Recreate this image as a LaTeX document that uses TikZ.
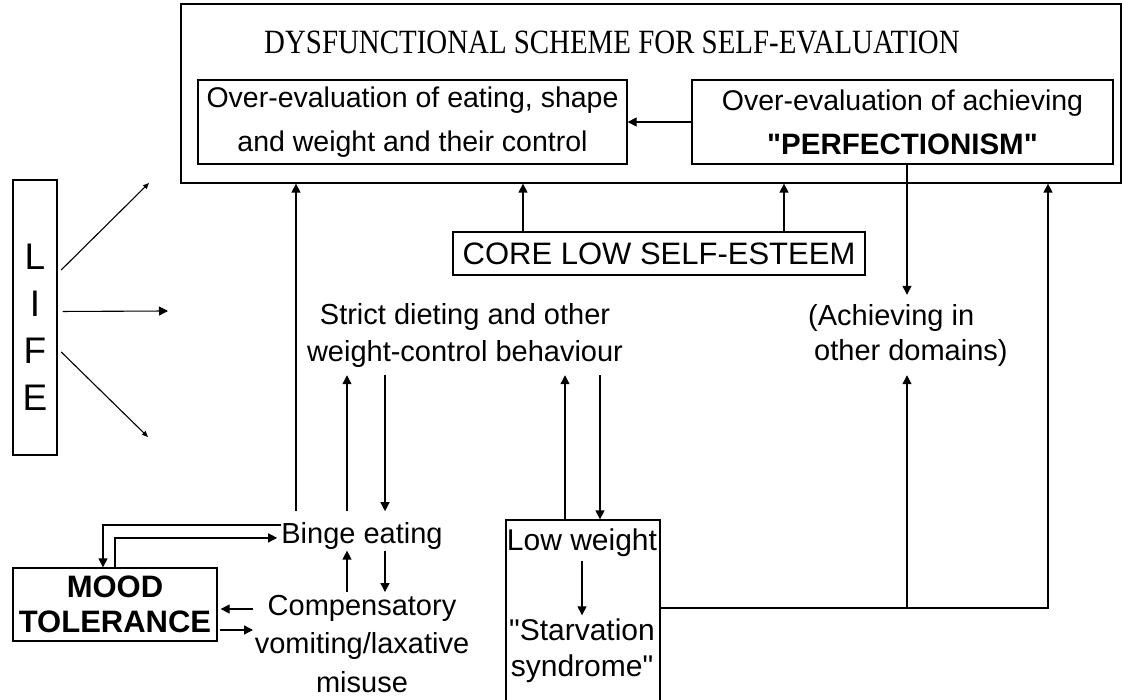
\documentclass[tikz,border=0pt]{standalone}
\usepackage{fontspec}
\setmainfont{Liberation Sans}[Ligatures=TeXOff]
\newfontfamily\titlefont{Liberation Serif}[FakeStretch=0.85,Ligatures=TeXOff]
\usetikzlibrary{arrows.meta}
\tikzset{
  box/.style={draw, line width=1.3pt, inner sep=0pt, align=center},
  txt/.style={inner sep=3pt, align=center},
  arr/.style={line width=1.3pt, -{Triangle[length=9pt,width=9pt]}},
  lifearr/.style={line width=1.1pt, -{Triangle[length=6pt,width=5pt]}}
}
\begin{document}
\begin{tikzpicture}[x=1pt,y=-1pt]
\useasboundingbox (0,0) rectangle (1122,700);
\fill[white] (0,0) rectangle (1122,700);

% top frame
\node[box, minimum width=940pt, minimum height=179pt] (outer) at (651,93.5) {};
\node[inner sep=0pt, anchor=base] (title) at (612,54) {\titlefont\fontsize{34}{40}\selectfont DYSFUNCTIONAL SCHEME FOR SELF-EVALUATION};
\node[box, minimum width=429pt, minimum height=84pt, font=\fontsize{28.5}{44}\selectfont] (eat) at (412.5,122) {Over-evaluation of eating, shape\\and weight and their control};
\node[box, minimum width=421pt, minimum height=84pt, font=\fontsize{28.5}{44}\selectfont] (ach) at (902.5,122) {Over-evaluation of achieving\\{\bfseries\fontsize{29.5}{44}\selectfont "PERFECTIONISM"}};

% core
\node[box, minimum width=412pt, minimum height=43pt, font=\fontsize{31}{36}\selectfont] (core) at (659,253.5) {CORE LOW SELF-ESTEEM};

% life
\node[box, minimum width=44pt, minimum height=275pt] (life) at (35,317.5) {};
\node[inner sep=0pt, align=center, font=\fontsize{37}{47}\selectfont] (lifetext) at (35,327) {L\\I\\F\\E};

% middle texts
\node[txt, inner ysep=7pt, font=\fontsize{29}{37}\selectfont] (diet) at (465,336) {Strict dieting and other\\weight-control behaviour};
\node[txt, align=left, inner ysep=9pt, anchor=west, font=\fontsize{29}{35}\selectfont] (achd) at (805,335) {(Achieving in\\\hspace*{6pt}other domains)};

% bottom
\node[inner sep=0pt, anchor=base, text height=32pt, text depth=7pt, font=\fontsize{29}{35}\selectfont] (binge) at (362,543.4) {Binge eating};
\node[txt, font=\fontsize{29}{38.5}\selectfont] (comp) at (362,644) {Compensatory\\vomiting/laxative\\misuse};
\node[box, minimum width=204pt, minimum height=73pt, font=\bfseries\fontsize{31}{35}\selectfont] (mood) at (115,604.5) {MOOD\\TOLERANCE};
\node[box, minimum width=154pt, minimum height=182pt] (lw) at (583,611) {};
\node[txt, font=\fontsize{30}{36}\selectfont] (lwt) at (582,543) {Low weight};
\node[txt, font=\fontsize{30}{36}\selectfont] (starv) at (582,650.5) {"Starvation\\syndrome"};

% column coordinates
\coordinate (xA) at (296,0);
\coordinate (xB) at (347,0);
\coordinate (xC) at (385,0);
\coordinate (xD) at (565,0);
\coordinate (xE) at (600,0);
\coordinate (xF) at (907,0);
\coordinate (xG) at (1048,0);
\coordinate (xH) at (523,0);
\coordinate (xI) at (784,0);
\coordinate (xK) at (253,0);
\coordinate (yL) at (0,608);

% top connectors
\draw[arr] (ach.west) -- (eat.east);
\draw[arr] (core.north -| xH) -- (outer.south -| xH);
\draw[arr] (core.north -| xI) -- (outer.south -| xI);
\draw[arr] (ach.south -| xF) -- (achd.north -| xF);

% life arrows
\coordinate (l1) at (149,183);
\coordinate (l2) at (168,311);
\coordinate (l3) at (148,437);
\draw[lifearr, shorten <=5pt] ([yshift=44pt]life.east) -- (l1);
\draw[arr, line width=1.1pt, shorten <=5pt] ([yshift=6pt]life.east) -- (l2);
\draw[lifearr, shorten <=5pt] ([yshift=-31pt]life.east) -- (l3);

% binge / dieting
\draw[arr] (binge.north -| xA) -- (outer.south -| xA);
\draw[arr] (binge.north -| xB) -- (diet.south -| xB);
\draw[arr] (diet.south -| xC) -- (binge.north -| xC);
\draw[arr] (lw.north -| xD) -- (diet.south -| xD);
\draw[arr] (diet.south -| xE) -- (lw.north -| xE);
\draw[arr] (comp.north -| xB) -- (binge.south -| xB);
\draw[arr] (binge.south -| xC) -- (comp.north -| xC);

% mood loops
\draw[arr] ([yshift=6pt]binge.west) -| ([xshift=-12pt]mood.north);
\draw[arr, shorten >=4pt] (mood.north) |- ([yshift=-7pt]binge.west);
\coordinate (m1) at ([yshift=-4.5pt]mood.east);
\coordinate (m2) at ([yshift=-25.5pt]mood.east);
\draw[arr, shorten >=3pt] (xK |- m1) -- (m1);
\draw[arr, shorten <=2pt] (m2) -- (xK |- m2);

% low weight
\draw[arr, shorten <=1pt] (lwt) -- (starv);
\draw[arr] (lw.east |- yL) -| (outer.south -| xG);
\draw[arr] (xF |- yL) -- (achd.south -| xF);
\end{tikzpicture}
\end{document}
